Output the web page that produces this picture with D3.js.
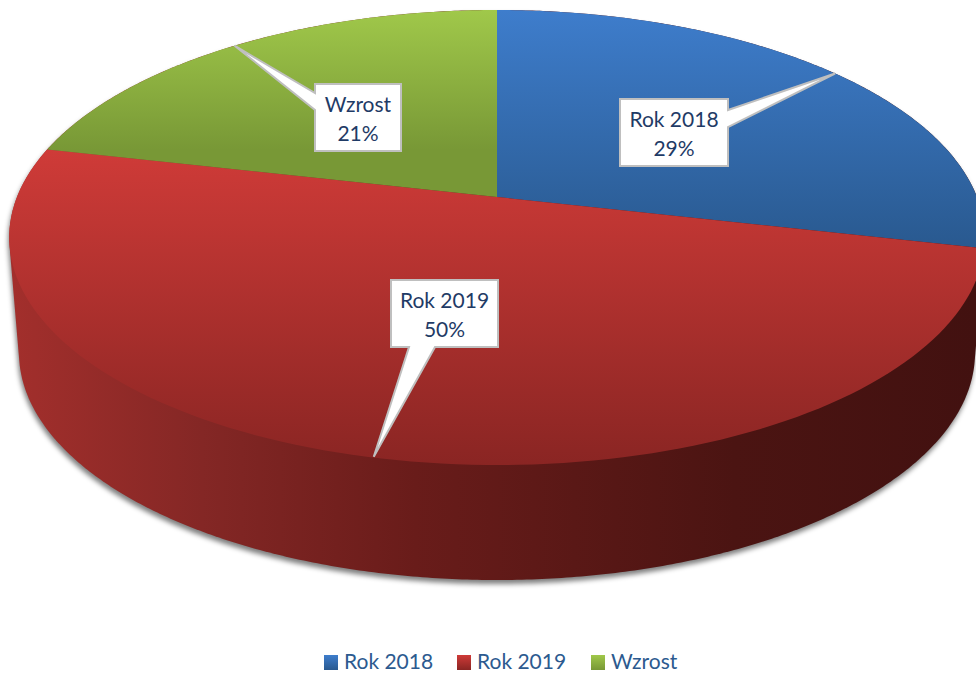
<!DOCTYPE html>
<html lang="pl">
<head>
<meta charset="utf-8">
<title>Rok 2018 / Rok 2019 / Wzrost</title>
<script src="https://cdn.jsdelivr.net/npm/d3@7"></script>
<style>
    html, body { margin: 0; background: #fff; overflow: hidden; }
    svg { display: block; }
    text { font-family: Lato, "Open Sans", sans-serif; }
</style>
</head>
<body>
<div id="chart-container"></div>
<script>
// Chart data
const categories = ["Rok 2018", "Rok 2019", "Wzrost"];
const values = [28.6, 50, 21.4];
const percentLabels = ["29%", "50%", "21%"];

const width = 976;
const height = 675;

// Gradient colours for each slice: [top, bottom]
const sliceColors = [
    ["#3e7dcc", "#29598f"],
    ["#cf3b38", "#8a2523"],
    ["#a0c84a", "#789836"]
];
const sideStops = [
    [0, "#a32f2c"],
    [0.2, "#842725"],
    [0.42, "#691c1a"],
    [0.75, "#4b1412"],
    [1, "#421110"]
];

// Label boxes (left, top, width, height)
const labelBoxes = [
    { x: 620, y: 99, w: 108, h: 67 },
    { x: 391, y: 280, w: 107, h: 67 },
    { x: 315, y: 84, w: 86, h: 67 }
];
// Which side of the box the pointer leaves from, and where
const pointerBases = [
    { a: [728, 110], b: [728, 127] },
    { a: [435, 347], b: [409, 347] },
    { a: [315, 110], b: [315, 93] }
];
const tipNudgeX = [0, 7, 0];
const legendX = [324, 457, 591];

// Perspective of the tilted disc
const center = { x: 497, y: 197 };
const radiusX = 480;
const radiusY = 220.3;
const tilt = 0.178;
const depth = 115;
const bottomShrink = 0.98;

// Angle (clockwise from top) on the rim to screen position
function project(angle, r = 1) {
    const u = Math.sin(angle) * r;
    const v = Math.cos(angle) * r;
    const w = 1 + tilt * v;
    return [center.x + radiusX * u / w, center.y - radiusY * v / w];
}
function projectBottom(angle) {
    const p = project(angle);
    return [center.x + (p[0] - center.x) * bottomShrink, p[1] + depth];
}

const svg = d3.select("#chart-container")
    .append("svg")
    .attr("width", width)
    .attr("height", height);

const defs = svg.append("defs");

// Gradients
sliceColors.forEach((c, i) => {
    const pts = rimPoints(i);
    const grad = defs.append("linearGradient")
        .attr("id", "slice" + i)
        .attr("gradientUnits", "userSpaceOnUse")
        .attr("x1", 0).attr("x2", 0)
        .attr("y1", d3.min(pts, d => d[1]))
        .attr("y2", d3.max(pts, d => d[1]));
    grad.append("stop").attr("offset", 0).attr("stop-color", c[0]);
    grad.append("stop").attr("offset", 1).attr("stop-color", c[1]);

    const legendGrad = defs.append("linearGradient")
        .attr("id", "legend" + i)
        .attr("x1", 0).attr("x2", 0).attr("y1", 0).attr("y2", 1);
    legendGrad.append("stop").attr("offset", 0).attr("stop-color", c[0]);
    legendGrad.append("stop").attr("offset", 1).attr("stop-color", c[1]);
});

const sideGrad = defs.append("linearGradient")
    .attr("id", "side")
    .attr("gradientUnits", "userSpaceOnUse")
    .attr("x1", 9).attr("x2", 976).attr("y1", 0).attr("y2", 0);
sideStops.forEach(s => sideGrad.append("stop").attr("offset", s[0]).attr("stop-color", s[1]));

const blur = defs.append("filter")
    .attr("id", "blur")
    .attr("filterUnits", "userSpaceOnUse")
    .attr("x", -20).attr("y", -20).attr("width", width + 40).attr("height", height + 40);
blur.append("feGaussianBlur").attr("stdDeviation", 2.5);

// Pie layout, first slice at the top and going clockwise
function pieData() {
    return d3.pie().sort(null)(values);
}
function rimPoints(i) {
    const s = pieData()[i];
    return d3.range(0, 121).map(k => project(s.startAngle + (s.endAngle - s.startAngle) * k / 120));
}

// Side wall is the hull of the top rim and the bottom rim
const rimAngles = d3.range(0, 720).map(k => k / 720 * 2 * Math.PI);
const hull = d3.polygonHull(rimAngles.map(a => project(a)).concat(rimAngles.map(projectBottom)));
const hullPath = d3.line()(hull) + "Z";

// Soft shadow under the wall
svg.append("path")
    .attr("d", hullPath)
    .attr("transform", "translate(-1,4)")
    .attr("fill", "#000")
    .attr("fill-opacity", 0.5)
    .attr("filter", "url(#blur)");

svg.append("path")
    .attr("d", hullPath)
    .attr("fill", "url(#side)");

// Top surface slices
const line = d3.line();
svg.selectAll("path.slice")
    .data(pieData())
    .enter()
    .append("path")
    .attr("class", "slice")
    .attr("d", (d, i) => line([[center.x, center.y]].concat(rimPoints(i))) + "Z")
    .attr("fill", (d, i) => `url(#slice${i})`);

// Callouts pointing at the middle of each slice on the rim
const callouts = svg.selectAll("g.callout")
    .data(pieData())
    .enter()
    .append("g")
    .attr("class", "callout");

callouts.append("path")
    .attr("d", (d, i) => {
        const box = labelBoxes[i];
        const base = pointerBases[i];
        const mid = project((d.startAngle + d.endAngle) / 2);
        const tip = [mid[0] + tipNudgeX[i], mid[1]];
        const corners = [
            [box.x, box.y],
            [box.x + box.w, box.y],
            [box.x + box.w, box.y + box.h],
            [box.x, box.y + box.h]
        ];
        // insert the pointer between the right corners
        let pts;
        if (i === 0) pts = [corners[0], corners[1], base.a, tip, base.b, corners[2], corners[3]];
        if (i === 1) pts = [corners[0], corners[1], corners[2], base.a, tip, base.b, corners[3]];
        if (i === 2) pts = [corners[0], corners[1], corners[2], corners[3], base.a, tip, base.b];
        return line(pts) + "Z";
    })
    .attr("fill", "#fff")
    .attr("stroke", "#bfbfbf")
    .attr("stroke-width", 2)
    .attr("stroke-linejoin", "miter");

callouts.append("text")
    .attr("x", (d, i) => labelBoxes[i].x + labelBoxes[i].w / 2)
    .attr("y", (d, i) => labelBoxes[i].y + 28)
    .attr("text-anchor", "middle")
    .attr("font-size", 21)
    .attr("fill", "#1f3b66")
    .text((d, i) => categories[i]);

callouts.append("text")
    .attr("x", (d, i) => labelBoxes[i].x + labelBoxes[i].w / 2)
    .attr("y", (d, i) => labelBoxes[i].y + 57)
    .attr("text-anchor", "middle")
    .attr("font-size", 21)
    .attr("fill", "#1f3b66")
    .text((d, i) => percentLabels[i]);

// Legend
const legend = svg.selectAll("g.legend")
    .data(categories)
    .enter()
    .append("g")
    .attr("class", "legend")
    .attr("transform", (d, i) => `translate(${legendX[i]},655)`);

legend.append("rect")
    .attr("width", 14)
    .attr("height", 15)
    .attr("fill", (d, i) => `url(#legend${i})`);

legend.append("text")
    .attr("x", 20)
    .attr("y", 13.5)
    .attr("font-size", 21)
    .attr("fill", "#2c5a8f")
    .text(d => d);
</script>
</body>
</html>
